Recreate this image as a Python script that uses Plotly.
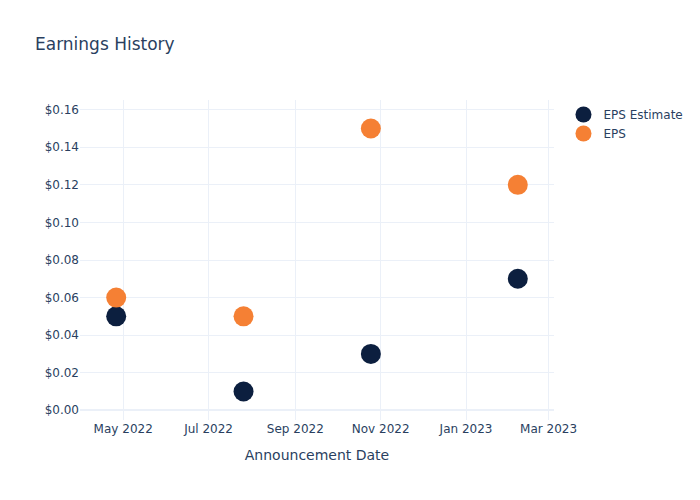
import plotly.graph_objects as go

dates = ["2022-04-26", "2022-07-26", "2022-10-25", "2023-02-07"]
eps_estimate = [0.05, 0.01, 0.03, 0.07]
eps_actual = [0.06, 0.05, 0.15, 0.12]

fig = go.Figure()
fig.add_trace(go.Scatter(x=dates, y=eps_estimate, mode="markers", name="EPS Estimate",
                         marker=dict(color="#0c1f3f", size=20)))
fig.add_trace(go.Scatter(x=dates, y=eps_actual, mode="markers", name="EPS",
                         marker=dict(color="#f58034", size=20)))
fig.update_layout(
    template="plotly_white",
    width=700, height=500,
    font=dict(family="DejaVu Sans"),
    title=dict(text="Earnings History"),
    xaxis=dict(title=dict(text="Announcement Date")),
    yaxis=dict(tickformat="$.2f"),
)
fig.write_html("out.html")
